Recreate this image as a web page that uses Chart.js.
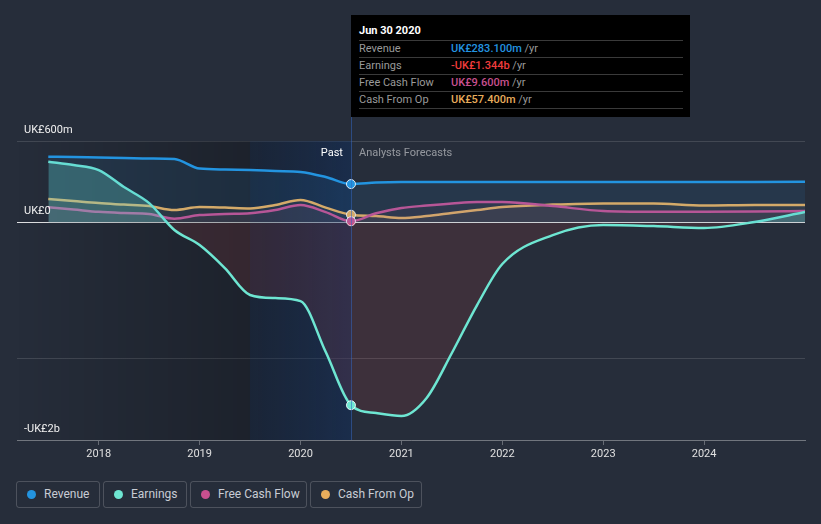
<!DOCTYPE html>
<html>
<head>
<meta charset="utf-8">
<script src="https://cdn.jsdelivr.net/npm/chart.js@4"></script>
<style>
  html,body{margin:0;padding:0;background:#262d3a;width:821px;height:524px;overflow:hidden;font-family:Roboto,"Noto Sans",sans-serif;}
  #wrap{position:relative;width:821px;height:524px;}
  #c{position:absolute;left:0;top:0;}
  #tip{position:absolute;left:351px;top:15px;width:339px;height:102px;background:#000;}
  #tip .t{position:absolute;left:8px;top:9px;line-height:14px;color:#fff;font-weight:bold;font-size:11px;}
  #tip .row{position:absolute;left:8px;width:324px;height:17px;border-top:1px solid #3a3a3a;font-size:11px;line-height:16px;color:#9a9a9a;}
  #tip .row .v{position:absolute;left:92px;top:0;}
  #tip .row .v b{font-weight:500;}
  #tip .row .yr{color:#9a9a9a;}
  #tip .last{position:absolute;left:8px;width:324px;top:93px;border-top:1px solid #3a3a3a;}
  #legend{position:absolute;left:16px;top:481px;height:27px;}
  .lg{position:absolute;top:0;height:25px;border:1px solid rgba(255,255,255,0.18);border-radius:3px;color:#c8ccd4;font-size:12px;line-height:25px;}
  .lg .d{position:absolute;left:10px;top:8px;width:9px;height:9px;border-radius:50%;}
  .lg span.l{position:absolute;left:27px;top:0;white-space:nowrap;}
</style>
</head>
<body>
<div id="wrap">
<canvas id="c" width="821" height="470" style="width:821px;height:470px"></canvas>
<div id="tip">
  <div class="t">Jun 30 2020</div>
  <div class="row" style="top:25px">Revenue<span class="v"><b style="color:#2394e0">UK£283.100m</b> <span class="yr">/yr</span></span></div>
  <div class="row" style="top:42px">Earnings<span class="v"><b style="color:#f03c3c">-UK£1.344b</b> <span class="yr">/yr</span></span></div>
  <div class="row" style="top:59px">Free Cash Flow<span class="v"><b style="color:#c8508f">UK£9.600m</b> <span class="yr">/yr</span></span></div>
  <div class="row" style="top:76px">Cash From Op<span class="v"><b style="color:#e8ad5c">UK£57.400m</b> <span class="yr">/yr</span></span></div>
  <div class="last"></div>
</div>
<div id="legend"></div>
</div>
<script>
// ---- data (values in UK£ millions, dates as decimal years) ----
const dates = [2017.5, 2017.75, 2018.0, 2018.25, 2018.5, 2018.75, 2019.0, 2019.25, 2019.5, 2019.75, 2020.0, 2020.25, 2020.5,
               2020.75, 2021.0, 2021.25, 2021.5, 2021.75, 2022.0, 2022.5, 2023.0, 2023.5, 2024.0, 2024.5, 2025.0];
const revenue  = [484, 482, 478, 475, 471, 467, 397, 390, 386, 379, 372, 335, 283.1,
                  294, 298, 298, 298, 298, 298, 298, 298, 298, 298, 299, 300];
const earnings = [447, 423, 386, 261, 143, -55, -166, -335, -533, -556, -578, -953, -1344,
                  -1402, -1424, -1291, -960, -607, -305, -92, -18, -26, -40, 4, 77];
const freeCashFlow = [112, 96, 79, 70, 63, 28, 55, 63, 68, 92, 129, 77, 9.6,
                      68, 107, 125, 140, 151, 151, 121, 85, 79, 79, 81, 85];
const cashFromOp = [173, 158, 143, 132, 121, 92, 114, 110, 104, 129, 166, 110, 57.4,
                    48, 33, 48, 70, 92, 114, 132, 141, 140, 125, 129, 129];
const xTicks = [2018, 2019, 2020, 2021, 2022, 2023, 2024];
const yGrid = [-1000, 0, 600];
const yLabels = [{v: 600, t: 'UK£600m'}, {v: 0, t: 'UK£0'}, {v: -1600, t: '-UK£2b'}];
const seriesNames = ['Revenue', 'Earnings', 'Free Cash Flow', 'Cash From Op'];
const seriesColors = ['#2394e0', '#6ee6d2', '#c8508f', '#e8ad5c'];
const nowDate = 2020.5, lastYearStart = 2019.5;

const pts = arr => dates.map((d, i) => ({x: d, y: arr[i]}));
const markerR = c => (c.raw && c.raw.x === nowDate) ? 4.5 : 0;

function ds(label, arr, color, fill) {
  return {
    label, data: pts(arr), borderColor: color, backgroundColor: color,
    borderWidth: 2.5, cubicInterpolationMode: 'monotone', fill,
    pointRadius: markerR, pointHoverRadius: markerR,
    pointBackgroundColor: color, pointBorderColor: 'rgba(255,255,255,0.85)', pointBorderWidth: 1
  };
}

const bgPlugin = {
  id: 'bg',
  beforeDatasetsDraw(chart) {
    const {ctx, chartArea: a, scales: {x}} = chart;
    const xl = x.getPixelForValue(lastYearStart), xn = x.getPixelForValue(nowDate);
    ctx.save();
    let g = ctx.createLinearGradient(a.left, 0, xl, 0);
    g.addColorStop(0, 'rgba(0,0,0,0)');
    g.addColorStop(1, 'rgba(0,0,0,0.24)');
    ctx.fillStyle = g;
    ctx.fillRect(a.left, a.top, xl - a.left, a.bottom - a.top);
    g = ctx.createLinearGradient(xl, 0, xn, 0);
    g.addColorStop(0, 'rgba(0,20,50,0.3)');
    g.addColorStop(1, 'rgba(10,45,100,0.42)');
    ctx.fillStyle = g;
    ctx.fillRect(xl, a.top, xn - xl, a.bottom - a.top);
    ctx.restore();
  },
  afterDatasetsDraw(chart) {
    const {ctx, chartArea: a, scales: {x, y}} = chart;
    const xn = x.getPixelForValue(nowDate);
    ctx.save();
    ctx.strokeStyle = 'rgba(50,100,190,0.55)';
    ctx.lineWidth = 1;
    ctx.beginPath(); ctx.moveTo(Math.round(xn) + 0.5, 117); ctx.lineTo(Math.round(xn) + 0.5, a.bottom); ctx.stroke();
    ctx.font = '11px Roboto, "Noto Sans", sans-serif';
    ctx.textBaseline = 'middle';
    ctx.textAlign = 'right'; ctx.fillStyle = '#ffffff';
    ctx.fillText('Past', xn - 8, 153);
    ctx.textAlign = 'left'; ctx.fillStyle = 'rgba(255,255,255,0.5)';
    ctx.fillText('Analysts Forecasts', xn + 8, 153);
    ctx.fillStyle = '#f0f0f0';
    yLabels.forEach(l => {
      ctx.fillText(l.t, 24, y.getPixelForValue(l.v) - 11);
    });
    ctx.restore();
  }
};

new Chart(document.getElementById('c'), {
  type: 'line',
  data: {
    datasets: [
      ds(seriesNames[0], revenue, seriesColors[0], {target: 'origin', above: 'rgba(35,148,224,0.10)', below: 'rgba(35,148,224,0.10)'}),
      ds(seriesNames[1], earnings, seriesColors[1], {target: 'origin', above: 'rgba(110,230,210,0.28)', below: 'rgba(230,70,70,0.12)'}),
      ds(seriesNames[2], freeCashFlow, seriesColors[2], {target: 'origin', above: 'rgba(200,80,143,0.07)', below: 'rgba(200,80,143,0.07)'}),
      ds(seriesNames[3], cashFromOp, seriesColors[3], {target: 'origin', above: 'rgba(232,173,92,0.06)', below: 'rgba(232,173,92,0.06)'})
    ]
  },
  options: {
    responsive: false, animation: false, devicePixelRatio: 1,
    layout: {padding: {top: 141, left: 17, right: 16, bottom: 0}},
    plugins: {legend: {display: false}, tooltip: {enabled: false}},
    events: [],
    scales: {
      x: {
        type: 'linear', min: 2017.19, max: 2025.0,
        afterBuildTicks: s => { s.ticks = xTicks.map(v => ({value: v})); },
        afterFit: s => { s.height = 30; },
        grid: {drawOnChartArea: false, drawTicks: true, tickLength: 5, color: 'rgba(255,255,255,0.3)'},
        border: {color: 'rgba(255,255,255,0.35)'},
        ticks: {color: '#e0e0e0', font: {size: 11, family: 'Roboto'}, padding: 3, maxRotation: 0, callback: v => String(v)}
      },
      y: {
        type: 'linear', min: -1600, max: 600,
        afterBuildTicks: s => { s.ticks = yGrid.map(v => ({value: v})); },
        afterFit: s => { s.width = 0; },
        grid: {drawTicks: false, color: c => c.tick && c.tick.value === 0 ? 'rgba(255,255,255,0.85)' : 'rgba(255,255,255,0.13)'},
        border: {display: false},
        ticks: {display: false}
      }
    }
  },
  plugins: [bgPlugin]
});

// HTML legend
const legendBoxes = [{l: 0, w: 82}, {l: 87, w: 82}, {l: 174, w: 115}, {l: 294, w: 110}];
const leg = document.getElementById('legend');
seriesNames.forEach((n, i) => {
  const b = document.createElement('div');
  b.className = 'lg';
  b.style.left = legendBoxes[i].l + 'px';
  b.style.width = legendBoxes[i].w + 'px';
  b.innerHTML = '<span class="d" style="background:' + seriesColors[i] + '"></span><span class="l">' + n + '</span>';
  leg.appendChild(b);
});
</script>
</body>
</html>
